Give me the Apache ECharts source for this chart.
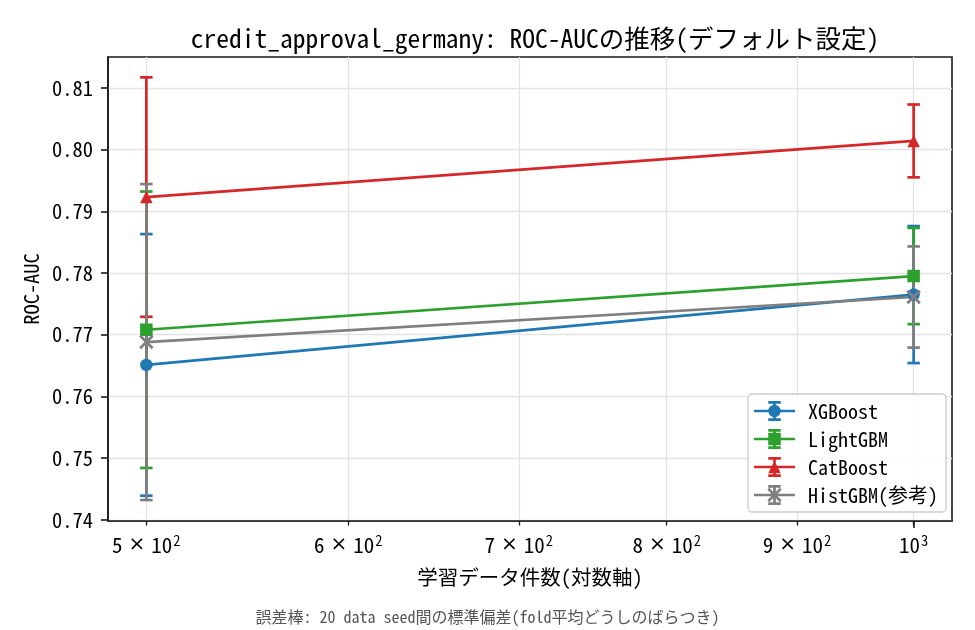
<!DOCTYPE html>
<html><head><meta charset="utf-8">
<script src="https://cdn.jsdelivr.net/npm/echarts@6/dist/echarts.min.js"></script>
<style>html,body{margin:0;padding:0;background:#fff}#c{width:975px;height:630px}</style>
</head><body><div id="c"></div>
<script>
// ---- data ----
const trainSizes = [500, 1000];
const xTickValues = [500, 600, 700, 800, 900, 1000];
const yTickValues = [0.74, 0.75, 0.76, 0.77, 0.78, 0.79, 0.80, 0.81];
const seriesNames = ['XGBoost', 'LightGBM', 'CatBoost', 'HistGBM(参考)'];
const xgbMean = [0.7651, 0.7765];
const xgbStd = [0.0212, 0.0111];
const lgbMean = [0.7708, 0.7795];
const lgbStd = [0.0224, 0.0078];
const catMean = [0.7923, 0.8014];
const catStd = [0.0194, 0.0059];
const histMean = [0.7688, 0.7761];
const histStd = [0.0256, 0.0082];
const titleText = 'credit_approval_germany: ROC-AUCの推移(デフォルト設定)';
const xName = '学習データ件数(対数軸)';
const yName = 'ROC-AUC';
const footText = '誤差棒: 20 data seed間の標準偏差(fold平均どうしのばらつき)';

// ---- style ----
const FONT = "'Noto Sans Mono CJK JP', 'DejaVu Sans Mono', monospace";
const colors = ['#1f77b4', '#2ca02c', '#d62728', '#7f7f7f'];
const means = [xgbMean, lgbMean, catMean, histMean];
const stds = [xgbStd, lgbStd, catStd, histStd];
const LW = 2.7, MS = 12.5, CAP = 6.25;

// log-space 5% margins like matplotlib
const lo = Math.log10(trainSizes[0]), hi = Math.log10(trainSizes[trainSizes.length - 1]);
const xMin = Math.pow(10, lo - 0.05 * (hi - lo));
const xMax = Math.pow(10, hi + 0.05 * (hi - lo));

function rect(x0, y0, x1, y1) { return `M${x0} ${y0}L${x1} ${y0}L${x1} ${y1}L${x0} ${y1}Z`; }
function circle(cx, cy, r) { return `M${cx - r} ${cy}A${r} ${r} 0 1 1 ${cx + r} ${cy}A${r} ${r} 0 1 1 ${cx - r} ${cy}Z`; }
function tri(cx, cy, s) { return `M${cx} ${cy - s}L${cx + s} ${cy + s}L${cx - s} ${cy + s}Z`; }
function xmark(cx, cy, s, t) {
  const d = t / (2 * Math.SQRT2);
  const a = `M${cx - s + d} ${cy - s - d}L${cx + s + d} ${cy + s - d}L${cx + s - d} ${cy + s + d}L${cx - s - d} ${cy - s + d}Z`;
  const b = `M${cx + s + d} ${cy - s + d}L${cx - s + d} ${cy + s + d}L${cx - s - d} ${cy + s - d}L${cx + s - d} ${cy - s - d}Z`;
  return a + b;
}
const markerPaths = [
  (cx, cy) => circle(cx, cy, MS / 2),
  (cx, cy) => rect(cx - MS / 2, cy - MS / 2, cx + MS / 2, cy + MS / 2),
  (cx, cy) => tri(cx, cy, MS / 2),
  (cx, cy) => xmark(cx, cy, MS / 2, LW)
];
const seriesSymbols = ['circle', 'rect', 'triangle', 'path://' + xmark(10, 10, MS / 2, LW)];
const seriesSymbolSizes = [MS, MS, MS, MS + LW / Math.SQRT2];

const IW = 41, IH = 20;
function legendIcon(i) {
  const cx = IW / 2, cy = IH / 2;
  let p = rect(0, cy - LW / 2, IW, cy + LW / 2);
  p += rect(cx - LW / 2, 0, cx + LW / 2, IH);
  p += rect(cx - CAP, 0, cx + CAP, LW);
  p += rect(cx - CAP, IH - LW, cx + CAP, IH);
  p += markerPaths[i](cx, cy);
  return 'path://' + p;
}

function xLabel(v) {
  if (v < 10) v = Math.pow(10, v);
  const e = Math.floor(Math.log10(v) + 1e-9);
  const m = Math.round(v / Math.pow(10, e));
  return m === 1 ? `{b|10}{s|${e}}` : `{b|${m}}{t|×}{b|10}{s|${e}}`;
}

const series = [];
seriesNames.forEach((name, i) => {
  series.push({
    type: 'custom', name: name, z: 2, clip: false,
    itemStyle: { color: colors[i] },
    encode: { x: 0, y: 1 },
    data: trainSizes.map((x, k) => [x, means[i][k], stds[i][k]]),
    renderItem: (params, api) => {
      const x = api.value(0), y = api.value(1), e = api.value(2);
      const t = api.coord([x, y + e]), b = api.coord([x, y - e]);
      const st = { stroke: colors[i], lineWidth: LW, fill: null };
      return { type: 'group', children: [
        { type: 'line', shape: { x1: t[0], y1: t[1], x2: b[0], y2: b[1] }, style: st },
        { type: 'line', shape: { x1: t[0] - CAP, y1: t[1], x2: t[0] + CAP, y2: t[1] }, style: st },
        { type: 'line', shape: { x1: b[0] - CAP, y1: b[1], x2: b[0] + CAP, y2: b[1] }, style: st }
      ] };
    }
  });
});
seriesNames.forEach((name, i) => {
  series.push({
    type: 'line', name: name, z: 3,
    data: trainSizes.map((x, k) => [x, means[i][k]]),
    symbol: seriesSymbols[i], symbolSize: seriesSymbolSizes[i], showSymbol: true,
    itemStyle: { color: colors[i], opacity: 1 },
    lineStyle: { color: colors[i], width: LW },
    emphasis: { disabled: true }
  });
});

const chart = echarts.init(document.getElementById('c'), null, { renderer: 'canvas' });
chart.setOption({
  animation: false,
  backgroundColor: '#ffffff',
  title: {
    text: titleText, left: 530, top: 21, textAlign: 'center',
    textStyle: { fontFamily: FONT, fontSize: 25.5, fontWeight: 'normal', color: '#000' }
  },
  grid: { left: 108, right: 23, top: 57, bottom: 109, show: true, borderColor: '#1a1a1a', borderWidth: 1.6, backgroundColor: 'transparent' },
  legend: {
    orient: 'vertical', left: 748, top: 394,
    padding: [7, 8, 7, 6], itemWidth: IW, itemHeight: IH, itemGap: 8,
    backgroundColor: 'rgba(255,255,255,0.85)', borderColor: '#cccccc', borderWidth: 1.3, borderRadius: 4,
    textStyle: { fontFamily: FONT, fontSize: 20, color: '#000', lineHeight: 20, padding: [0, 0, 0, 8] },
    data: seriesNames.map((n, i) => ({ name: n, icon: legendIcon(i) })),
    selectedMode: false
  },
  xAxis: [{
    type: 'log', logBase: 10, min: xMin, max: xMax,
    name: xName, nameLocation: 'middle', nameGap: 46,
    nameTextStyle: { fontFamily: FONT, fontSize: 20.5, color: '#000' },
    axisLine: { show: true, lineStyle: { color: '#1a1a1a', width: 1.6 } },
    axisTick: { show: true, customValues: xTickValues, length: 4.5, lineStyle: { color: '#1a1a1a', width: 1.3 } },
    axisLabel: {
      customValues: xTickValues, margin: 12, formatter: xLabel, color: '#000',
      rich: {
        b: { fontFamily: FONT, fontSize: 21, color: '#000' },
        t: { fontFamily: 'DejaVu Sans', fontSize: 20, color: '#000', padding: [0, 6, 0, 6] },
        s: { fontFamily: FONT, fontSize: 14.5, color: '#000', verticalAlign: 'top', padding: [0, 0, 10, 1] }
      }
    },
    splitLine: { show: true, lineStyle: { color: '#e3e3e3', width: 1.3 } }
  }, {
    type: 'log', logBase: 10, min: xMin, max: xMax, gridIndex: 0, position: 'bottom',
    axisLine: { show: false },
    axisTick: { show: true, customValues: [1000], length: 7, lineStyle: { color: '#1a1a1a', width: 1.6 } },
    axisLabel: { show: false }, splitLine: { show: false }
  }],
  yAxis: {
    type: 'value', min: 0.7398, max: 0.815,
    name: yName, nameLocation: 'middle', nameGap: 66, nameRotate: 90,
    nameTextStyle: { fontFamily: FONT, fontSize: 20.5, color: '#000' },
    axisLine: { show: true, lineStyle: { color: '#1a1a1a', width: 1.6 } },
    axisTick: { show: true, customValues: yTickValues, length: 7, lineStyle: { color: '#1a1a1a', width: 1.6 } },
    axisLabel: {
      customValues: yTickValues, margin: 15, formatter: v => Number(v).toFixed(2),
      fontFamily: FONT, fontSize: 20.5, color: '#000'
    },
    splitLine: { show: true, lineStyle: { color: '#e3e3e3', width: 1.3 } }
  },
  graphic: [{
    type: 'text', left: 'center', top: 609,
    style: { text: footText, fontFamily: FONT, fontSize: 16, fill: '#555' }
  }],
  series: series
});
</script></body></html>
